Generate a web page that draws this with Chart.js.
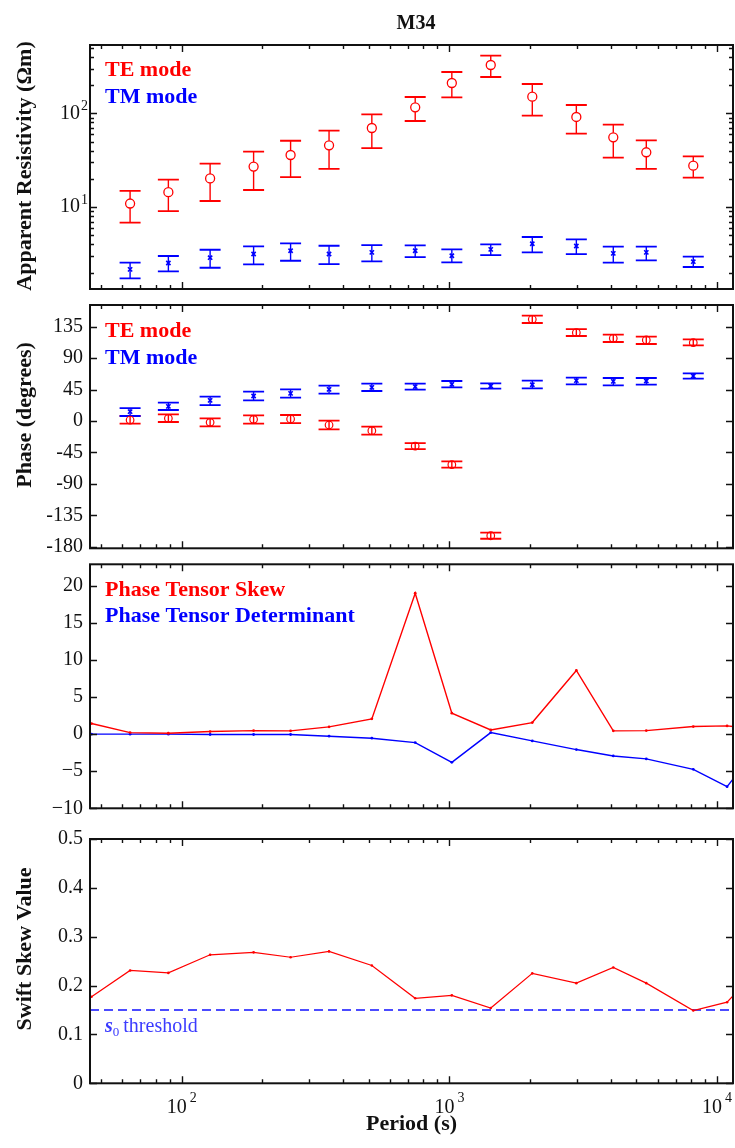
<!DOCTYPE html>
<html>
<head>
<meta charset="utf-8">
<script src="https://cdn.jsdelivr.net/npm/chart.js@4/dist/chart.umd.min.js"></script>
<style>
  body { margin: 0; background: #fff; }
  #wrap { position: relative; width: 735px; height: 1148px; }
  #wrap canvas { position: absolute; left: 0; top: 0; }
</style>
</head>
<body>
<div id="wrap">
  <canvas id="rho" width="735" height="1148"></canvas>
  <canvas id="phase" width="735" height="1148"></canvas>
  <canvas id="tensor" width="735" height="1148"></canvas>
  <canvas id="swift" width="735" height="1148"></canvas>
</div>
<script>
// ---- data ----
const periods = [64.1, 89.1, 127.6, 185.5, 255, 355, 513, 745, 1021, 1427, 2040, 2980, 4095, 5440, 8150];

const rhoTE     = [10.9, 14.4, 20.2, 27.0, 35.9, 45.5, 69.7, 115.9, 210.7, 328, 150.6, 91.4, 55.4, 38.4, 27.6];
const rhoTEHigh = [14.9, 19.6, 29.0, 39.0, 51.0, 65.3, 97.6, 149.4, 276, 413, 205.6, 122.7, 75.7, 51.5, 34.7];
const rhoTELow  = [6.8, 9.06, 11.6, 15.2, 20.9, 25.5, 42.6, 82.8, 148, 244, 94.4, 60.7, 33.6, 25.5, 20.6];
const rhoTM     = [2.16, 2.53, 2.88, 3.15, 3.42, 3.15, 3.28, 3.42, 3.02, 3.53, 4.06, 3.84, 3.20, 3.28, 2.61];
const rhoTMHigh = [2.55, 3.0, 3.5, 3.8, 4.09, 3.86, 3.93, 3.9, 3.53, 3.99, 4.79, 4.52, 3.77, 3.77, 2.95];
const rhoTMLow  = [1.73, 2.06, 2.25, 2.44, 2.67, 2.46, 2.63, 2.92, 2.56, 3.07, 3.28, 3.15, 2.55, 2.70, 2.29];

const phaseTE     = [1.4, 3.8, -1.9, 2.4, 2.9, -5.7, -13.8, -35.8, -62.5, -164.2, 145.6, 126.5, 118.4, 116.0, 112.2];
const phaseTEHigh = [7.2, 9.5, 3.8, 8.1, 8.6, 0.5, -8.1, -31.5, -57.8, -159.9, 150.8, 131.7, 123.6, 120.8, 116.9];
const phaseTELow  = [-3.8, -1.4, -7.6, -3.8, -2.9, -11.9, -19.6, -40.1, -66.8, -168.5, 140.3, 121.7, 113.1, 110.3, 108.4];
const phaseTM     = [13.4, 21.0, 29.6, 35.8, 39.6, 45.3, 48.2, 49.2, 52.5, 50.1, 52.0, 57.8, 56.8, 57.3, 64.4];
const phaseTMHigh = [18.6, 26.3, 34.8, 42.0, 45.3, 50.6, 53.5, 53.5, 57.3, 53.9, 57.8, 62.1, 61.6, 61.6, 68.3];
const phaseTMLow  = [7.2, 15.8, 22.9, 29.6, 33.4, 39.1, 43.0, 44.9, 48.2, 46.3, 46.8, 52.5, 51.1, 52.0, 60.6];

const skewPeriods = [46, 64.1, 89.1, 127.6, 185.5, 255, 355, 513, 745, 1021, 1427, 2040, 2980, 4095, 5440, 8150, 10900, 14600];
const ptSkew      = [1.43, 0.21, 0.12, 0.35, 0.48, 0.44, 0.98, 2.06, 19.0, 2.82, 0.57, 1.56, 8.58, 0.44, 0.48, 1.02, 1.11, 0.6];
const ptDet       = [0, 0, 0, -0.05, -0.05, -0.05, -0.28, -0.55, -1.14, -3.8, 0.21, -0.91, -2.08, -2.94, -3.34, -4.74, -7.08, -1.2];
const swiftSkew   = [0.177, 0.231, 0.226, 0.263, 0.268, 0.258, 0.270, 0.241, 0.174, 0.180, 0.154, 0.225, 0.205, 0.237, 0.205, 0.149, 0.166, 0.24];
const swiftThreshold = 0.15;

const periodRange = [45.4, 11470];
const periodTicks = [100, 1000, 10000];
const rhoRange = [1.334, 536];
const rhoTicks = [10, 100];
const phaseRange = [-182.2, 166.1];
const phaseTicks = [-180, -135, -90, -45, 0, 45, 90, 135];
const tensorRange = [-10, 22.9];
const tensorTicks = [-10, -5, 0, 5, 10, 15, 20];
const swiftRange = [0, 0.5];
const swiftTicks = [0, 0.1, 0.2, 0.3, 0.4, 0.5];

// ---- look ----
const FONT = "'Liberation Serif', 'Times New Roman', serif";
const RED = '#ff0000';
const BLUE = '#0000ff';
const INK = '#111';
const W = 735, H = 1148;

const pts = (xs, ys) => xs.map((x, i) => ({ x: x, y: ys[i] }));

// texts drawn on each panel, keyed by canvas id
const decor = {
  rho: [
    { text: 'M34', x: 416, y: 29, font: 'bold 20px ' + FONT, color: INK, align: 'center' },
    { text: 'TE mode', x: 105, y: 76, font: 'bold 22px ' + FONT, color: RED },
    { text: 'TM mode', x: 105, y: 103, font: 'bold 22px ' + FONT, color: BLUE },
    { text: 'Apparent Resistivity (\u03A9m)', x: 31, y: 166, font: 'bold 22px ' + FONT, color: INK, align: 'center', rotate: true }
  ],
  phase: [
    { text: 'TE mode', x: 105, y: 336.5, font: 'bold 22px ' + FONT, color: RED },
    { text: 'TM mode', x: 105, y: 364, font: 'bold 22px ' + FONT, color: BLUE },
    { text: 'Phase (degrees)', x: 31, y: 415, font: 'bold 22px ' + FONT, color: INK, align: 'center', rotate: true }
  ],
  tensor: [
    { text: 'Phase Tensor Skew', x: 105, y: 595.5, font: 'bold 22px ' + FONT, color: RED },
    { text: 'Phase Tensor Determinant', x: 105, y: 621.5, font: 'bold 22px ' + FONT, color: BLUE }
  ],
  swift: [
    { text: 'Swift Skew Value', x: 31, y: 949, font: 'bold 22px ' + FONT, color: INK, align: 'center', rotate: true }
  ]
};

// "10" with a raised exponent
function drawPow(ctx, value, x, y, align, gap, raise) {
  const exp = String(Math.round(Math.log10(value)));
  ctx.font = '20px ' + FONT;
  const wb = ctx.measureText('10').width;
  ctx.font = '14px ' + FONT;
  const we = ctx.measureText(exp).width;
  const total = wb + gap + we;
  const x0 = align === 'right' ? x - total : x - total / 2;
  ctx.textAlign = 'left';
  ctx.textBaseline = 'middle';
  ctx.font = '20px ' + FONT;
  ctx.fillText('10', x0, y);
  ctx.font = '14px ' + FONT;
  ctx.fillText(exp, x0 + wb + gap, y - raise);
}

function logMarks(min, max) {
  const out = [];
  for (let e = Math.floor(Math.log10(min)); e <= Math.ceil(Math.log10(max)); e++) {
    for (let m = 1; m <= 9; m++) {
      const v = m * Math.pow(10, e);
      if (v > min && v < max) out.push([v, m === 1]);
    }
  }
  return out;
}

const errorBars = {
  id: 'errorBars',
  beforeDatasetsDraw(chart) {
    const { ctx } = chart;
    const xs = chart.scales.x, ys = chart.scales.y;
    chart.data.datasets.forEach(ds => {
      if (!ds.errLow) return;
      ctx.save();
      ctx.strokeStyle = ds.borderColor;
      ds.data.forEach((d, j) => {
        const px = xs.getPixelForValue(d.x);
        const pc = ys.getPixelForValue(d.y);
        const pl = ys.getPixelForValue(ds.errLow[j]);
        const ph = ys.getPixelForValue(ds.errHigh[j]);
        ctx.lineWidth = 1.4;
        ctx.beginPath();
        if (ds.barGap) {
          ctx.moveTo(px, ph); ctx.lineTo(px, pc - ds.barGap);
          ctx.moveTo(px, pc + ds.barGap); ctx.lineTo(px, pl);
        } else {
          ctx.moveTo(px, ph); ctx.lineTo(px, pl);
        }
        ctx.stroke();
        ctx.lineWidth = 1.8;
        ctx.beginPath();
        ctx.moveTo(px - 10.5, ph); ctx.lineTo(px + 10.5, ph);
        ctx.moveTo(px - 10.5, pl); ctx.lineTo(px + 10.5, pl);
        ctx.stroke();
      });
      ctx.restore();
    });
  }
};

const frameAndText = {
  id: 'frameAndText',
  afterDraw(chart) {
    const { ctx, chartArea: a } = chart;
    const xs = chart.scales.x, ys = chart.scales.y;
    ctx.save();
    ctx.strokeStyle = INK;
    ctx.lineWidth = 1.4;
    ctx.beginPath();
    logMarks(xs.min, xs.max).forEach(([v, major]) => {
      const px = Math.round(xs.getPixelForValue(v)) + 0.5;
      const len = major ? 7 : 4;
      ctx.moveTo(px, a.bottom); ctx.lineTo(px, a.bottom - len);
      ctx.moveTo(px, a.top); ctx.lineTo(px, a.top + len);
    });
    const yMarks = ys.type === 'logarithmic'
      ? logMarks(ys.min, ys.max)
      : ys.ticks.map(t => [t.value, true]);
    yMarks.forEach(([v, major]) => {
      const py = Math.round(ys.getPixelForValue(v)) + 0.5;
      const len = major ? 7 : 4;
      ctx.moveTo(a.left, py); ctx.lineTo(a.left + len, py);
      ctx.moveTo(a.right, py); ctx.lineTo(a.right - len, py);
    });
    ctx.stroke();
    ctx.lineWidth = 2;
    ctx.strokeRect(a.left, a.top, a.right - a.left, a.bottom - a.top);

    ctx.fillStyle = INK;
    if (ys.type === 'logarithmic') {
      rhoTicks.forEach(v => drawPow(ctx, v, 88, ys.getPixelForValue(v), 'right', 1, 7));
    }
    if (chart.canvas.id === 'swift') {
      periodTicks.forEach(v => drawPow(ctx, v, xs.getPixelForValue(v), a.bottom + 24.5, 'center', 3, 9));
      // s0 threshold label
      ctx.fillStyle = '#3b3bff';
      ctx.textAlign = 'left';
      ctx.textBaseline = 'alphabetic';
      ctx.font = 'italic bold 20px ' + FONT;
      ctx.fillText('s', 105, 1032);
      let x = 105 + ctx.measureText('s').width;
      ctx.font = '13px ' + FONT;
      ctx.fillText('0', x, 1036);
      x += ctx.measureText('0').width + 4;
      ctx.font = '20px ' + FONT;
      ctx.fillText('threshold', x, 1032);
    }

    (decor[chart.canvas.id] || []).forEach(t => {
      ctx.save();
      ctx.fillStyle = t.color;
      ctx.font = t.font;
      ctx.textAlign = t.align || 'left';
      ctx.textBaseline = 'alphabetic';
      if (t.rotate) {
        ctx.translate(t.x, t.y);
        ctx.rotate(-Math.PI / 2);
        ctx.fillText(t.text, 0, 0);
      } else {
        ctx.fillText(t.text, t.x, t.y);
      }
      ctx.restore();
    });
    ctx.restore();
  }
};

Chart.register(errorBars, frameAndText);

function xAxis(withTitle) {
  return {
    type: 'logarithmic',
    min: periodRange[0],
    max: periodRange[1],
    afterBuildTicks: s => { s.ticks = periodTicks.map(v => ({ value: v })); },
    ticks: { display: false },
    grid: { display: false, drawTicks: false },
    border: { display: false },
    title: withTitle
      ? { display: true, text: 'Period (s)', color: INK, font: { family: FONT, size: 22, weight: 'bold' }, padding: { top: 0, bottom: 10 } }
      : { display: false },
    afterFit: s => { s.height = withTitle ? H - 1083.3 : 0; s.paddingLeft = 0; s.paddingRight = 0; }
  };
}

function yAxis(type, range, tickVals, fmt) {
  return {
    type: type,
    min: range[0],
    max: range[1],
    afterBuildTicks: s => { s.ticks = tickVals.map(v => ({ value: v })); },
    ticks: {
      display: type !== 'logarithmic',
      autoSkip: false,
      padding: 7,
      color: INK,
      font: { family: FONT, size: 20 },
      callback: fmt
    },
    grid: { display: false, drawTicks: false },
    border: { display: false },
    afterFit: s => { s.width = 90; s.paddingTop = 0; s.paddingBottom = 0; }
  };
}

function baseOptions(top, bottom, xa, ya) {
  return {
    responsive: false,
    animation: false,
    events: [],
    layout: { autoPadding: false, padding: { top: top, bottom: bottom, left: 0, right: W - 733 } },
    plugins: { legend: { display: false }, tooltip: { enabled: false }, title: { display: false } },
    scales: { x: xa, y: ya }
  };
}

// Panel 1: apparent resistivity
new Chart(document.getElementById('rho'), {
  type: 'scatter',
  data: {
    datasets: [
      {
        label: 'TE mode', data: pts(periods, rhoTE), errLow: rhoTELow, errHigh: rhoTEHigh, barGap: 4.5,
        borderColor: RED, backgroundColor: 'rgba(0,0,0,0)', pointStyle: 'circle', pointRadius: 4.5, pointBorderWidth: 1.3
      },
      {
        label: 'TM mode', data: pts(periods, rhoTM), errLow: rhoTMLow, errHigh: rhoTMHigh,
        borderColor: BLUE, backgroundColor: BLUE, pointStyle: 'crossRot', pointRadius: 3, pointBorderWidth: 1.6
      }
    ]
  },
  options: baseOptions(45, H - 289, xAxis(false), yAxis('logarithmic', rhoRange, rhoTicks, () => ''))
});

// Panel 2: phase
new Chart(document.getElementById('phase'), {
  type: 'scatter',
  data: {
    datasets: [
      {
        label: 'TE mode', data: pts(periods, phaseTE), errLow: phaseTELow, errHigh: phaseTEHigh,
        borderColor: RED, backgroundColor: 'rgba(0,0,0,0)', pointStyle: 'circle', pointRadius: 3.8, pointBorderWidth: 1.2
      },
      {
        label: 'TM mode', data: pts(periods, phaseTM), errLow: phaseTMLow, errHigh: phaseTMHigh,
        borderColor: BLUE, backgroundColor: BLUE, pointStyle: 'crossRot', pointRadius: 3, pointBorderWidth: 1.6
      }
    ]
  },
  options: baseOptions(305, H - 548.3, xAxis(false), yAxis('linear', phaseRange, phaseTicks, v => String(v)))
});

// Panel 3: phase tensor skew / determinant
new Chart(document.getElementById('tensor'), {
  type: 'line',
  data: {
    datasets: [
      {
        label: 'Phase Tensor Skew', data: pts(skewPeriods, ptSkew), borderColor: RED, backgroundColor: RED,
        borderWidth: 1.4, pointRadius: 1.4, pointBorderWidth: 0, tension: 0, clip: 0
      },
      {
        label: 'Phase Tensor Determinant', data: pts(skewPeriods, ptDet), borderColor: BLUE, backgroundColor: BLUE,
        borderWidth: 1.4, pointRadius: 1.4, pointBorderWidth: 0, tension: 0, clip: 0
      }
    ]
  },
  options: baseOptions(564.3, H - 808.3, xAxis(false),
    yAxis('linear', tensorRange, tensorTicks, v => (v < 0 ? '\u2212' + Math.abs(v) : String(v))))
});

// Panel 4: Swift skew
new Chart(document.getElementById('swift'), {
  type: 'line',
  data: {
    datasets: [
      {
        label: 'Swift skew', data: pts(skewPeriods, swiftSkew), borderColor: RED, backgroundColor: RED,
        borderWidth: 1.2, pointRadius: 1.3, pointBorderWidth: 0, tension: 0, clip: 0
      },
      {
        label: 's0 threshold', data: pts(periodRange, [swiftThreshold, swiftThreshold]),
        borderColor: '#4b4bff', borderWidth: 2, borderDash: [9, 5], pointRadius: 0, tension: 0, clip: 0
      }
    ]
  },
  options: baseOptions(839, 0, xAxis(true), yAxis('linear', swiftRange, swiftTicks, v => String(Math.round(v * 10) / 10)))
});
</script>
</body>
</html>
